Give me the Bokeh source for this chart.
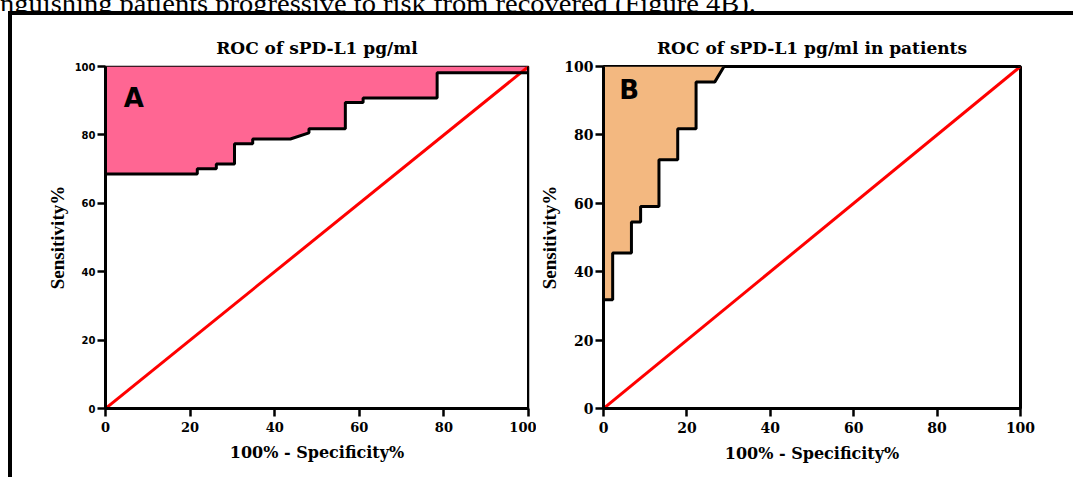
from bokeh.plotting import figure
from bokeh.layouts import row, column
from bokeh.models import Range1d, Label, Span, FixedTicker, Div
from bokeh.embed import file_html
from bokeh.resources import INLINE

# ---- data ----
a_fpr = [0, 0, 21.7, 21.7, 26.2, 26.2, 30.5, 30.5, 34.8, 34.8, 43.7, 48.1, 48.1,
         56.7, 56.7, 60.9, 60.9, 78.4, 78.4, 100, 100]
a_tpr = [0, 68.6, 68.6, 70.1, 70.1, 71.5, 71.5, 77.4, 77.4, 78.8, 78.8, 80.6, 81.8,
         81.8, 89.5, 89.5, 90.8, 90.8, 98.2, 98.2, 100]
b_fpr = [0, 0, 2.2, 2.2, 6.7, 6.7, 8.9, 8.9, 13.3, 13.3, 17.8, 17.8, 22.2, 22.2,
         26.7, 28.9, 100]
b_tpr = [0, 31.8, 31.8, 45.5, 45.5, 54.5, 54.5, 59.1, 59.1, 72.7, 72.7, 81.8, 81.8,
         95.5, 95.5, 100, 100]
ref_x = [0, 100]
ref_y = [0, 100]
ticks = [0, 20, 40, 60, 80, 100]

title_a = "ROC of sPD-L1 pg/ml"
title_b = "ROC of sPD-L1 pg/ml in patients"
xlabel = "100% - Specificity%"
ylabel = "Sensitivity%"
top_text = "nguishing patients progressive to risk from recovered (Figure 4B)."

SERIF = "DejaVu Serif"


def make(title, width, left, right, fpr, tpr, fill, letter, lx, ly, ytick_font, ytick_size,
         xtick_size, top_w, ylab_standoff):
    p = figure(width=width, height=462, output_backend="svg", toolbar_location=None,
               x_range=Range1d(0, 100), y_range=Range1d(0, 100),
               min_border_left=left, min_border_right=right,
               min_border_top=51, min_border_bottom=69, title=title)
    p.title.text_font = SERIF
    p.title.text_font_style = "bold"
    p.title.text_font_size = "17px"
    p.title.text_color = "black"
    p.title.align = "center"
    p.title.standoff = 17
    p.grid.visible = False
    p.background_fill_color = "white"
    p.outline_line_color = "black"
    p.outline_line_width = top_w
    p.outline_line_alpha = 1

    p.varea(x=fpr, y1=tpr, y2=[100] * len(tpr), fill_color=fill)
    p.line(ref_x, ref_y, line_color="#FF0000", line_width=3)
    p.line(fpr, tpr, line_color="black", line_width=3)

    for ax in (p.xaxis[0], p.yaxis[0]):
        ax.ticker = FixedTicker(ticks=ticks)
        ax.minor_tick_line_color = None
        ax.axis_line_width = 3
        ax.major_tick_line_width = 2.5
        ax.major_tick_out = 8
        ax.major_tick_in = 0
        ax.axis_label_text_font_style = "bold"
        ax.major_label_text_font_style = "bold"
        ax.major_label_text_color = "black"
        ax.axis_label_text_color = "black"
    p.xaxis.axis_label = xlabel
    p.xaxis.axis_label_text_font = SERIF
    p.xaxis.axis_label_text_font_size = "16px"
    p.xaxis.major_label_text_font = SERIF
    p.xaxis.major_label_text_font_size = xtick_size
    p.xaxis.major_label_standoff = 5
    p.xaxis.axis_label_standoff = 8
    p.yaxis.axis_label = ylabel
    p.yaxis.axis_label_text_font = "Liberation Serif"
    p.yaxis.axis_label_text_font_size = "19px"
    p.yaxis.major_label_text_font = ytick_font
    p.yaxis.major_label_text_font_size = ytick_size
    p.yaxis.major_label_standoff = 2
    p.yaxis.axis_label_standoff = ylab_standoff

    p.add_layout(Label(x=lx, y=ly, text=letter, text_font="DejaVu Sans",
                       text_font_style="bold", text_font_size="26px",
                       text_color="black"))
    return p


pA = make(title_a, 524, 93, 8, a_fpr, a_tpr, "#FF6693", "A", 4.3, 86.5,
          "DejaVu Sans", "10px", "13px", 1.5, 4)
pA.add_layout(Span(location=100, dimension="height", line_color="black", line_width=3))
pB = make(title_b, 537, 66, 53, b_fpr, b_tpr, "#F3B880", "B", 3.8, 88.8,
          SERIF, "14px", "14px", 3, 1)

head = Div(text='<div style="font-family: \'Liberation Serif\'; font-size: 25px; '
                'line-height: 25px; margin-top: -13px; white-space: nowrap; color: black; '
                'transform: scaleX(1.14); transform-origin: 0 0;">'
                + top_text + '</div>',
           width=1070, height=11, margin=0, styles={"overflow": "hidden"})

panels = row(pA, pB, margin=0, styles={"border-left": "4px solid black",
                                       "border-top": "4px solid black",
                                       "margin-left": "8px"})
layout = column(head, panels, margin=0)

open("out.html", "w").write(file_html(layout, INLINE))
